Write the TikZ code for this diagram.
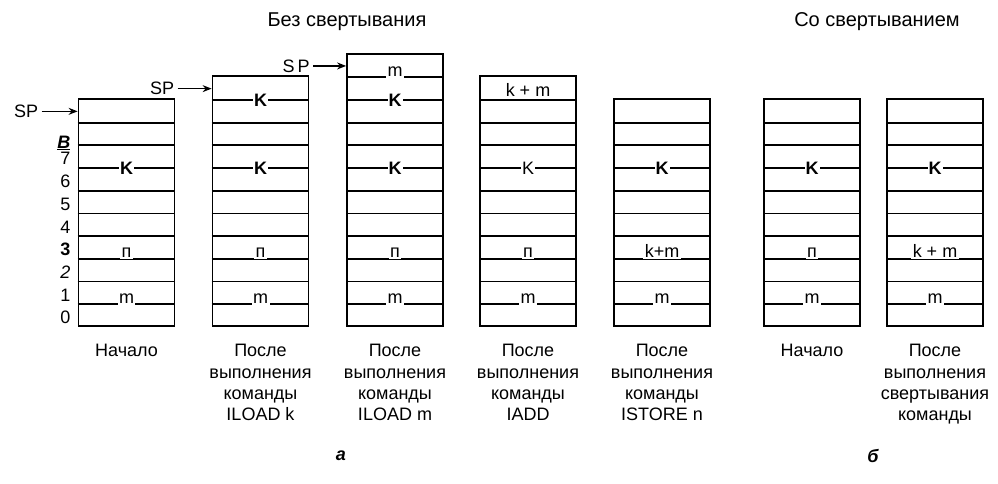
\documentclass[tikz,border=0pt]{standalone}
\usepackage{fontspec}
\setmainfont{Liberation Sans}
\usetikzlibrary{positioning, arrows.meta}

\newcommand{\cellh}{22.7pt}
\newcommand{\labelfont}{\fontsize{18}{21.3}\selectfont}

\tikzset{
    stack/.style={draw, rectangle, line width=1.8pt, inner sep=0pt, minimum width=96pt, anchor=south},
    bigk/.style={fill=white, inner sep=1pt, font=\labelfont\bfseries},
    plaink/.style={fill=white, inner sep=1pt, font=\labelfont},
    cellword/.style={fill=white, inner sep=1.5pt, anchor=base, font=\labelfont},
    rowlabel/.style={anchor=east, inner sep=1pt, font=\labelfont},
    caption/.style={align=center, font=\labelfont},
    sparrow/.style={-{Stealth[length=9pt, width=7pt]}, line width=1.2pt},
}

\begin{document}
\begin{tikzpicture}[x=1pt, y=1pt, font=\labelfont]
\useasboundingbox (0,0) rectangle (998,484);

% --- titles ---
\node [anchor=base, font=\fontsize{20}{24}\selectfont] (titlea) at (347,457) {Без свертывания};
\node [anchor=base, font=\fontsize{20}{24}\selectfont] (titleb) at (877,457) {Со свертыванием};

% --- stacks (a) ---
\node [stack, minimum height=10*\cellh] (start) at (126.5,157) {};
\node [stack, minimum height=11*\cellh] (iloadk) at (260.5,157) {};
\node [stack, minimum height=12*\cellh] (iloadm) at (395,157) {};
\node [stack, minimum height=11*\cellh] (iadd) at (528,157) {};
\node [stack, minimum height=10*\cellh] (istore) at (662,157) {};

% --- stacks (b) ---
\node [stack, minimum height=10*\cellh] (foldstart) at (812,157) {};
\node [stack, minimum height=10*\cellh] (folded) at (935,157) {};

% cell borders
\foreach \s/\n in {start/9, iloadk/10, iloadm/11, iadd/10, istore/9, foldstart/9, folded/9}
    \foreach \i in {1,...,\n}
        \draw [line width=1.8pt] ([yshift=\i*\cellh]\s.south west) -- ([yshift=\i*\cellh]\s.south east);

% --- row numbers ---
\foreach \lbl [count=\i from 0] in {0, 1, \textit{2}, \textbf{3}, 4, 5, 6, 7}
    \node [rowlabel] (row\i) at ([xshift=-6pt, yshift=\i*\cellh+0.5*\cellh-2pt]start.south west) {\lbl};
\node [rowlabel, font=\labelfont\bfseries\itshape] (row8) at ([xshift=-6pt, yshift=8.5*\cellh-9pt]start.south west) {\underline{B}};

% --- cell contents ---
\node [bigk] (startk) at ([yshift=7*\cellh]start.south) {K};
\node [cellword] (startn) at ([yshift=3*\cellh+1pt]start.south) {п};
\node [cellword] (startm) at ([yshift=1*\cellh+1pt]start.south) {m};

\node [bigk] (iloadktop) at ([yshift=10*\cellh]iloadk.south) {K};
\node [bigk] (iloadkk) at ([yshift=7*\cellh]iloadk.south) {K};
\node [cellword] (iloadkn) at ([yshift=3*\cellh+1pt]iloadk.south) {п};
\node [cellword] (iloadkm) at ([yshift=1*\cellh+1pt]iloadk.south) {m};

\node [cellword] (iloadmtop) at ([yshift=11*\cellh+1pt]iloadm.south) {m};
\node [bigk] (iloadmk) at ([yshift=10*\cellh]iloadm.south) {K};
\node [bigk] (iloadmkk) at ([yshift=7*\cellh]iloadm.south) {K};
\node [cellword] (iloadmn) at ([yshift=3*\cellh+1pt]iloadm.south) {п};
\node [cellword] (iloadmm) at ([yshift=1*\cellh+1pt]iloadm.south) {m};

\node [cellword] (iaddtop) at ([yshift=10*\cellh+3pt]iadd.south) {k + m};
\node [plaink] (iaddk) at ([yshift=7*\cellh]iadd.south) {K};
\node [cellword] (iaddn) at ([yshift=3*\cellh+1pt]iadd.south) {п};
\node [cellword] (iaddm) at ([yshift=1*\cellh+1pt]iadd.south) {m};

\node [bigk] (istorek) at ([yshift=7*\cellh]istore.south) {K};
\node [cellword] (istoren) at ([yshift=3*\cellh+1pt]istore.south) {k+m};
\node [cellword] (istorem) at ([yshift=1*\cellh+1pt]istore.south) {m};

\node [bigk] (foldstartk) at ([yshift=7*\cellh]foldstart.south) {K};
\node [cellword] (foldstartn) at ([yshift=3*\cellh+1pt]foldstart.south) {п};
\node [cellword] (foldstartm) at ([yshift=1*\cellh+1pt]foldstart.south) {m};

\node [bigk] (foldedk) at ([yshift=7*\cellh]folded.south) {K};
\node [cellword] (foldedn) at ([yshift=3*\cellh+1pt]folded.south) {k + m};
\node [cellword] (foldedm) at ([yshift=1*\cellh+1pt]folded.south) {m};

% --- stack pointers ---
\coordinate (startsp) at ([yshift=9.5*\cellh]start.south west);
\coordinate (iloadksp) at ([yshift=10.5*\cellh]iloadk.south west);
\coordinate (iloadmsp) at ([yshift=11.5*\cellh]iloadm.south west);

\node [left=36pt of startsp] (spstart) {SP};
\node [left=34pt of iloadksp] (spiloadk) {SP};
\node [left=33pt of iloadmsp] (spiloadm) {S\,P};

\draw [sparrow] (spstart) -- (startsp);
\draw [sparrow] (spiloadk) -- (iloadksp);
\draw [sparrow] (spiloadm) -- (iloadmsp);

% --- captions ---
\node [caption, below=14pt of start] (startcap) {Начало};
\node [caption, below=14pt of iloadk] (iloadkcap) {После\\выполнения\\команды\\ILOAD k};
\node [caption, below=14pt of iloadm] (iloadmcap) {После\\выполнения\\команды\\ILOAD m};
\node [caption, below=14pt of iadd] (iaddcap) {После\\выполнения\\команды\\IADD};
\node [caption, below=14pt of istore] (istorecap) {После\\выполнения\\команды\\ISTORE n};
\node [caption, below=14pt of foldstart] (foldstartcap) {Начало};
\node [caption, below=14pt of folded] (foldedcap) {После\\выполнения\\свертывания\\команды};

% --- part letters ---
\node [font=\labelfont\bfseries\itshape] (parta) at (341,28) {а};
\node [font=\labelfont\bfseries\itshape] (partb) at (873,28) {б};

\end{tikzpicture}
\end{document}
